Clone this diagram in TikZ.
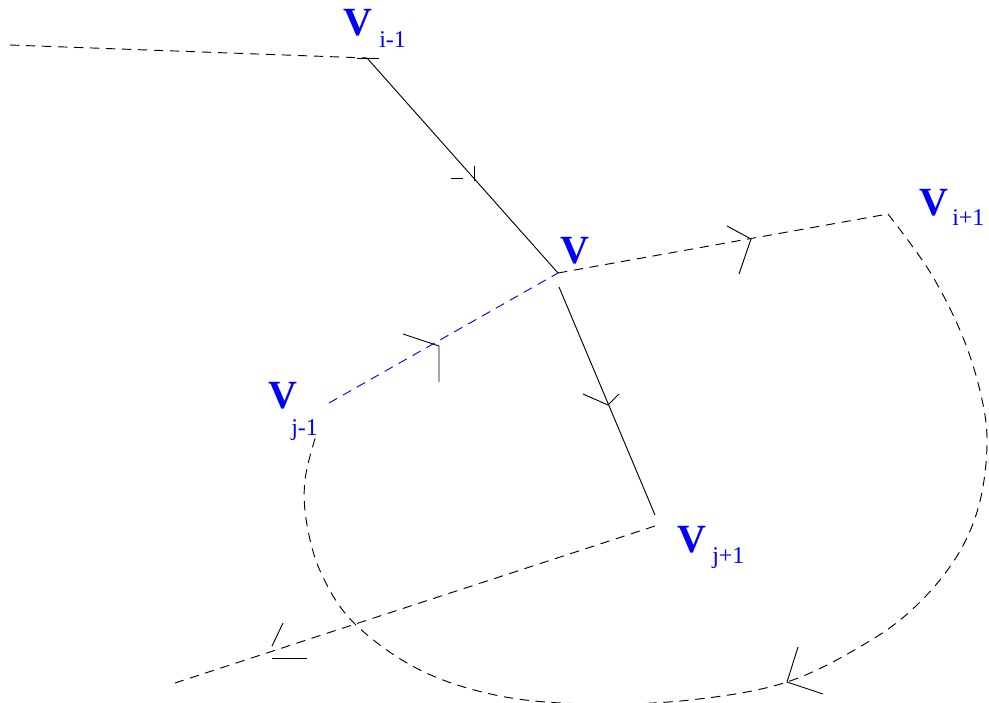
\documentclass[tikz,border=0pt]{standalone}
\usepackage{fontspec}
\setmainfont{Liberation Serif}
\usetikzlibrary{positioning}

\begin{document}
\begin{tikzpicture}[
  x=0.75pt, y=-0.75pt,
  edge/.style={line width=0.7pt, black},
  dashedge/.style={edge, dash pattern=on 7pt off 5pt},
  barb/.style={line width=0.7pt, black},
  vname/.style={font=\fontsize{30}{32}\selectfont\bfseries, text=blue, inner sep=0pt, anchor=base west},
  vsubs/.style={font=\fontsize{18}{20}\selectfont, text=blue, inner sep=0pt, anchor=base west}
]
\useasboundingbox (0,0) rectangle (989,703);

% Vertices
\coordinate (far) at (10,45);
\coordinate (vim1) at (367,58);
\coordinate (v) at (558,273);
\coordinate (vout) at (559,287);
\coordinate (vip1) at (888,214);
\coordinate (vjm1) at (329,403);
\coordinate (vjm1c) at (317,432);
\coordinate (vjp1) at (655,515);
\coordinate (vjp1d) at (655,526);
\coordinate (low) at (175,683);

% Labels
\node[vname] (Lim1) at (343,35) {V};
\node[vsubs] (Lim1s) at (379,47) {i-1};
\node[vname] (Lv) at (560,263) {V};
\node[vname] (Lip1) at (919,215) {V};
\node[vsubs] (Lip1s) at (952,225) {i+1};
\node[vname] (Ljm1) at (268,408) {V};
\node[vsubs] (Ljm1s) at (291,435) {j-1};
\node[vname] (Ljp1) at (677,552) {V};
\node[vsubs] (Ljp1s) at (712,563) {j+1};

% Edges
\draw[dashedge] (far) -- (vim1);
\draw[edge] (357,58) -- (379,58);
\draw[edge] (vim1) -- (v);
\draw[dashedge] (v) -- (vip1);
\draw[dashedge, blue] (vjm1) -- (v);
\draw[edge] (vout) -- (vjp1);
\draw[dashedge] (vjp1d) -- (low);
\draw[dashedge] plot[smooth, tension=0.6] coordinates {(vip1) (930,272) (962,335) (981,395) (987,445) (979,505) (957,556) (918,604) (868,642) (787,682) (690,700) (590,704) (500,696) (420,670) (355,624) (322,575) (307,525) (305,480) (vjm1c)};

% Arrowheads
\draw[barb] (451,178) -- (463,178);
\draw[barb] (474,166) -- (474,181);
\draw[barb] (727,226) -- (751,239) -- (739,274);
\draw[barb] (403,334) -- (439,346) -- (439,382);
\draw[barb] (583,394) -- (608,405) -- (619,394);
\draw[barb] (283,623) -- (272,646);
\draw[barb] (272,658) -- (307,658);
\draw[barb] (798,647) -- (787,682) -- (823,694);

\end{tikzpicture}
\end{document}
